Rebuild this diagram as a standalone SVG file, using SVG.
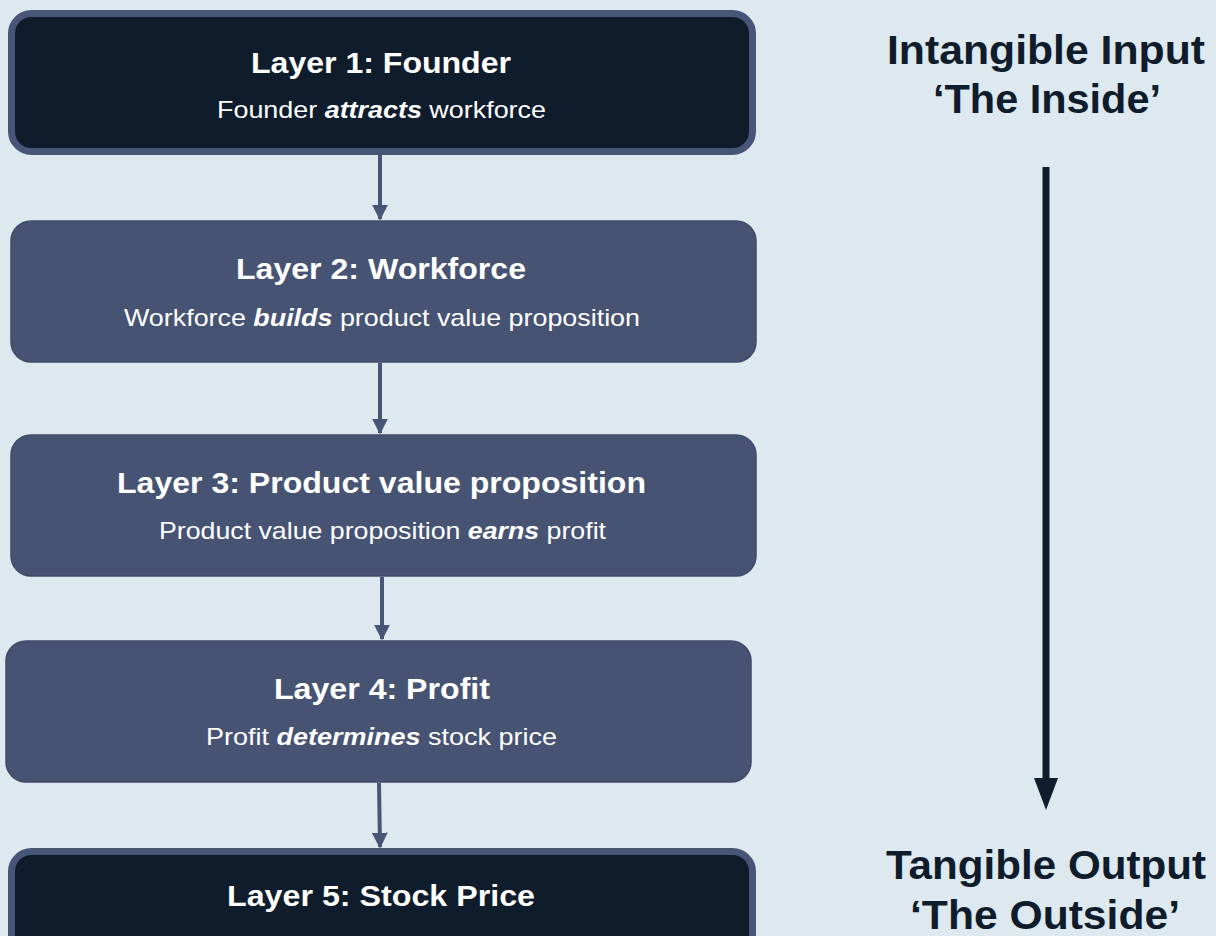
<svg xmlns="http://www.w3.org/2000/svg" width="1216" height="936" viewBox="0 0 1216 936">
<defs>
<style>
.dark{fill:#0f1c2b;stroke:#475577;stroke-width:7}
.mid{fill:#465373;stroke:#3f4b68;stroke-width:1.5}
.t{font-family:"Liberation Sans",Arial,sans-serif;fill:#ffffff;text-anchor:middle}
.title{font-size:30px;font-weight:bold}
.sub{font-size:24px}
.side{font-family:"Liberation Sans",Arial,sans-serif;fill:#0f1c2b;text-anchor:middle;font-size:40px;font-weight:bold}
.conn{stroke:#475577;stroke-width:4;fill:none}
.bi{font-weight:bold;font-style:italic}
</style>
<marker id="ah" markerWidth="4" markerHeight="4" refX="3.6" refY="2" orient="auto" markerUnits="strokeWidth">
<path d="M0,0 L4,2 L0,4 Z" fill="#475577"/>
</marker>
</defs>
<rect width="1216" height="936" fill="#dde8ef"/>
<g id="connectors">
<line class="conn" x1="380" y1="155" x2="380" y2="219" marker-end="url(#ah)"/>
<line class="conn" x1="380" y1="363" x2="380" y2="433" marker-end="url(#ah)"/>
<line class="conn" x1="382" y1="577" x2="382" y2="639" marker-end="url(#ah)"/>
<line class="conn" x1="379" y1="783" x2="380" y2="847" marker-end="url(#ah)"/>
<line x1="1046" y1="167" x2="1046" y2="780" stroke="#0f1c2b" stroke-width="7"/>
<path d="M1034,778 L1058,778 L1046,810 Z" fill="#0f1c2b"/>
</g>
<g id="layer1">
<rect class="dark" x="11.5" y="13.5" width="741" height="138" rx="20"/>
<text class="t title" x="381" y="73" textLength="260" lengthAdjust="spacingAndGlyphs">Layer 1: Founder</text>
<text class="t sub" x="381.5" y="118" textLength="329" lengthAdjust="spacingAndGlyphs">Founder <tspan class="bi">attracts</tspan> workforce</text>
</g>
<g id="layer2">
<rect class="mid" x="11" y="221" width="745" height="141" rx="20"/>
<text class="t title" x="381" y="279" textLength="290" lengthAdjust="spacingAndGlyphs">Layer 2: Workforce</text>
<text class="t sub" x="382" y="326" textLength="516" lengthAdjust="spacingAndGlyphs">Workforce <tspan class="bi">builds</tspan> product value proposition</text>
</g>
<g id="layer3">
<rect class="mid" x="11" y="435" width="745" height="141" rx="20"/>
<text class="t title" x="381.5" y="493" textLength="529" lengthAdjust="spacingAndGlyphs">Layer 3: Product value proposition</text>
<text class="t sub" x="382.5" y="539" textLength="447" lengthAdjust="spacingAndGlyphs">Product value proposition <tspan class="bi">earns</tspan> profit</text>
</g>
<g id="layer4">
<rect class="mid" x="6" y="641" width="745" height="141" rx="20"/>
<text class="t title" x="382" y="699" textLength="216" lengthAdjust="spacingAndGlyphs">Layer 4: Profit</text>
<text class="t sub" x="381.5" y="745" textLength="351" lengthAdjust="spacingAndGlyphs">Profit <tspan class="bi">determines</tspan> stock price</text>
</g>
<g id="layer5">
<rect class="dark" x="11.5" y="851.5" width="741" height="138" rx="20"/>
<text class="t title" x="381" y="906" textLength="308" lengthAdjust="spacingAndGlyphs">Layer 5: Stock Price</text>
</g>
<g id="labels">
<text class="side" x="1046" y="64" textLength="318" lengthAdjust="spacingAndGlyphs">Intangible Input</text>
<text class="side" x="1047" y="113" textLength="228" lengthAdjust="spacingAndGlyphs">‘The Inside’</text>
<text class="side" x="1046" y="879" textLength="320" lengthAdjust="spacingAndGlyphs">Tangible Output</text>
<text class="side" x="1045" y="929" textLength="270" lengthAdjust="spacingAndGlyphs">‘The Outside’</text>
</g>
</svg>
